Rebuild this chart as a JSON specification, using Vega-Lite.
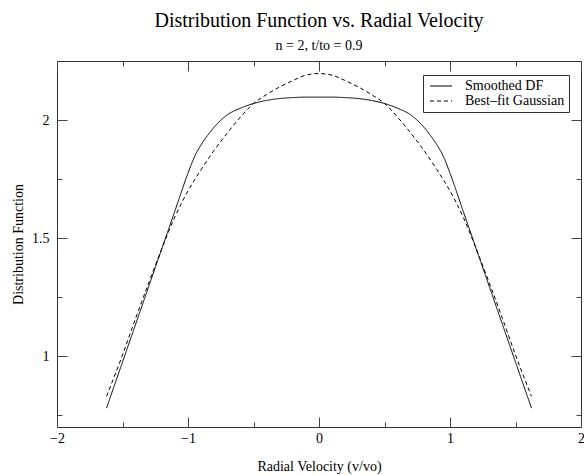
{
  "$schema": "https://vega.github.io/schema/vega-lite/v6.json",
  "width": 524,
  "height": 366,
  "autosize": {"type": "none"},
  "padding": {"left": 57, "top": 61, "right": 3, "bottom": 48},
  "background": "white",
  "config": {
    "font": "Liberation Serif",
    "view": {"stroke": "#333", "strokeWidth": 1},
    "axis": {"domain": false, "grid": false, "tickColor": "#444", "tickWidth": 1, "labelFont": "Liberation Serif", "labelFontSize": 14, "labelColor": "black", "titleFont": "Liberation Serif", "titleFontSize": 14, "titleFontWeight": "normal", "titleColor": "black"}
  },
  "title": {
    "text": "Distribution Function vs. Radial Velocity",
    "subtitle": "n = 2, t/to = 0.9",
    "font": "Liberation Serif",
    "subtitleFont": "Liberation Serif",
    "fontSize": 20,
    "subtitleFontSize": 14,
    "fontWeight": "normal",
    "color": "black",
    "subtitleColor": "black",
    "anchor": "middle",
    "offset": 8,
    "subtitlePadding": 8
  },
  "data": {
    "values": [
      {"v": -1.622, "f": 0.78, "series": "Smoothed DF"},
      {"v": -1.5, "f": 0.975, "series": "Smoothed DF"},
      {"v": -1.4, "f": 1.135, "series": "Smoothed DF"},
      {"v": -1.3, "f": 1.295, "series": "Smoothed DF"},
      {"v": -1.2, "f": 1.455, "series": "Smoothed DF"},
      {"v": -1.1, "f": 1.615, "series": "Smoothed DF"},
      {"v": -1.0, "f": 1.775, "series": "Smoothed DF"},
      {"v": -0.95, "f": 1.845, "series": "Smoothed DF"},
      {"v": -0.9, "f": 1.895, "series": "Smoothed DF"},
      {"v": -0.85, "f": 1.935, "series": "Smoothed DF"},
      {"v": -0.8, "f": 1.97, "series": "Smoothed DF"},
      {"v": -0.7, "f": 2.022, "series": "Smoothed DF"},
      {"v": -0.6, "f": 2.05, "series": "Smoothed DF"},
      {"v": -0.5, "f": 2.07, "series": "Smoothed DF"},
      {"v": -0.4, "f": 2.083, "series": "Smoothed DF"},
      {"v": -0.3, "f": 2.091, "series": "Smoothed DF"},
      {"v": -0.2, "f": 2.095, "series": "Smoothed DF"},
      {"v": -0.1, "f": 2.097, "series": "Smoothed DF"},
      {"v": 0.0, "f": 2.097, "series": "Smoothed DF"},
      {"v": 0.1, "f": 2.097, "series": "Smoothed DF"},
      {"v": 0.2, "f": 2.095, "series": "Smoothed DF"},
      {"v": 0.3, "f": 2.091, "series": "Smoothed DF"},
      {"v": 0.4, "f": 2.083, "series": "Smoothed DF"},
      {"v": 0.5, "f": 2.07, "series": "Smoothed DF"},
      {"v": 0.6, "f": 2.05, "series": "Smoothed DF"},
      {"v": 0.7, "f": 2.022, "series": "Smoothed DF"},
      {"v": 0.8, "f": 1.97, "series": "Smoothed DF"},
      {"v": 0.85, "f": 1.935, "series": "Smoothed DF"},
      {"v": 0.9, "f": 1.895, "series": "Smoothed DF"},
      {"v": 0.95, "f": 1.845, "series": "Smoothed DF"},
      {"v": 1.0, "f": 1.775, "series": "Smoothed DF"},
      {"v": 1.1, "f": 1.615, "series": "Smoothed DF"},
      {"v": 1.2, "f": 1.455, "series": "Smoothed DF"},
      {"v": 1.3, "f": 1.295, "series": "Smoothed DF"},
      {"v": 1.4, "f": 1.135, "series": "Smoothed DF"},
      {"v": 1.5, "f": 0.975, "series": "Smoothed DF"},
      {"v": 1.622, "f": 0.78, "series": "Smoothed DF"},
      {"v": -1.622, "f": 0.83, "series": "Best–fit Gaussian"},
      {"v": -1.5, "f": 1.005, "series": "Best–fit Gaussian"},
      {"v": -1.4, "f": 1.16, "series": "Best–fit Gaussian"},
      {"v": -1.3, "f": 1.31, "series": "Best–fit Gaussian"},
      {"v": -1.2, "f": 1.455, "series": "Best–fit Gaussian"},
      {"v": -1.1, "f": 1.59, "series": "Best–fit Gaussian"},
      {"v": -1.0, "f": 1.7, "series": "Best–fit Gaussian"},
      {"v": -0.9, "f": 1.79, "series": "Best–fit Gaussian"},
      {"v": -0.8, "f": 1.872, "series": "Best–fit Gaussian"},
      {"v": -0.7, "f": 1.945, "series": "Best–fit Gaussian"},
      {"v": -0.6, "f": 2.012, "series": "Best–fit Gaussian"},
      {"v": -0.5, "f": 2.07, "series": "Best–fit Gaussian"},
      {"v": -0.4, "f": 2.108, "series": "Best–fit Gaussian"},
      {"v": -0.3, "f": 2.14, "series": "Best–fit Gaussian"},
      {"v": -0.2, "f": 2.167, "series": "Best–fit Gaussian"},
      {"v": -0.1, "f": 2.19, "series": "Best–fit Gaussian"},
      {"v": 0.0, "f": 2.197, "series": "Best–fit Gaussian"},
      {"v": 0.1, "f": 2.19, "series": "Best–fit Gaussian"},
      {"v": 0.2, "f": 2.167, "series": "Best–fit Gaussian"},
      {"v": 0.3, "f": 2.14, "series": "Best–fit Gaussian"},
      {"v": 0.4, "f": 2.108, "series": "Best–fit Gaussian"},
      {"v": 0.5, "f": 2.07, "series": "Best–fit Gaussian"},
      {"v": 0.6, "f": 2.012, "series": "Best–fit Gaussian"},
      {"v": 0.7, "f": 1.945, "series": "Best–fit Gaussian"},
      {"v": 0.8, "f": 1.872, "series": "Best–fit Gaussian"},
      {"v": 0.9, "f": 1.79, "series": "Best–fit Gaussian"},
      {"v": 1.0, "f": 1.7, "series": "Best–fit Gaussian"},
      {"v": 1.1, "f": 1.59, "series": "Best–fit Gaussian"},
      {"v": 1.2, "f": 1.455, "series": "Best–fit Gaussian"},
      {"v": 1.3, "f": 1.31, "series": "Best–fit Gaussian"},
      {"v": 1.4, "f": 1.16, "series": "Best–fit Gaussian"},
      {"v": 1.5, "f": 1.005, "series": "Best–fit Gaussian"},
      {"v": 1.622, "f": 0.83, "series": "Best–fit Gaussian"}
    ]
  },
  "layer": [
    {
      "mark": {"type": "line", "color": "black", "strokeWidth": 1, "interpolate": "monotone"},
      "encoding": {
        "x": {
          "field": "v", "type": "quantitative",
          "scale": {"domain": [-2, 2], "nice": false, "zero": false},
          "axis": {
            "orient": "bottom",
            "values": [-2, -1.5, -1, -0.5, 0, 0.5, 1, 1.5, 2],
            "format": "~g",
            "labelExpr": "datum.value % 1 === 0 ? datum.label : ''",
            "tickSize": {"condition": {"test": "datum.value % 1 === 0", "value": -10}, "value": -5},
            "labelPadding": 14,
            "labelFlush": false,
            "title": "Radial Velocity (v/vo)",
            "titlePadding": 14
          }
        },
        "y": {
          "field": "f", "type": "quantitative",
          "scale": {"domain": [0.7, 2.25], "nice": false, "zero": false},
          "axis": {
            "orient": "left",
            "values": [0.75, 1, 1.25, 1.5, 1.75, 2],
            "format": "~g",
            "labelExpr": "(datum.value * 2) % 1 === 0 ? datum.label : ''",
            "tickSize": {"condition": {"test": "(datum.value * 2) % 1 === 0", "value": -10}, "value": -5},
            "labelPadding": 18,
            "title": "Distribution Function",
            "titlePadding": 6
          }
        },
        "strokeDash": {
          "field": "series", "type": "nominal",
          "scale": {"domain": ["Smoothed DF", "Best–fit Gaussian"], "range": [[1, 0], [4, 3]]},
          "legend": {
            "orient": "none",
            "legendX": 366,
            "legendY": 14,
            "title": null,
            "strokeColor": "#333",
            "fillColor": "white",
            "padding": 4,
            "symbolType": "M-1,0H4.5",
            "symbolSize": 64,
            "symbolStrokeColor": "black",
            "symbolStrokeWidth": 1,
            "labelFont": "Liberation Serif",
            "labelFontSize": 14,
            "labelColor": "black",
            "labelOffset": 24,
            "rowPadding": 1
          }
        }
      }
    },
    {
      "mark": {"type": "line", "opacity": 0},
      "encoding": {
        "x": {
          "field": "v", "type": "quantitative",
          "axis": {
            "orient": "top",
            "values": [-2, -1.5, -1, -0.5, 0, 0.5, 1, 1.5, 2],
            "labels": false,
            "tickSize": {"condition": {"test": "datum.value % 1 === 0", "value": -10}, "value": -5},
            "title": null
          }
        },
        "y": {
          "field": "f", "type": "quantitative",
          "axis": {
            "orient": "right",
            "values": [0.75, 1, 1.25, 1.5, 1.75, 2],
            "labels": false,
            "tickSize": {"condition": {"test": "(datum.value * 2) % 1 === 0", "value": -10}, "value": -5},
            "title": null
          }
        },
        "detail": {"field": "series", "type": "nominal"}
      }
    }
  ],
  "resolve": {"axis": {"x": "independent", "y": "independent"}}
}
